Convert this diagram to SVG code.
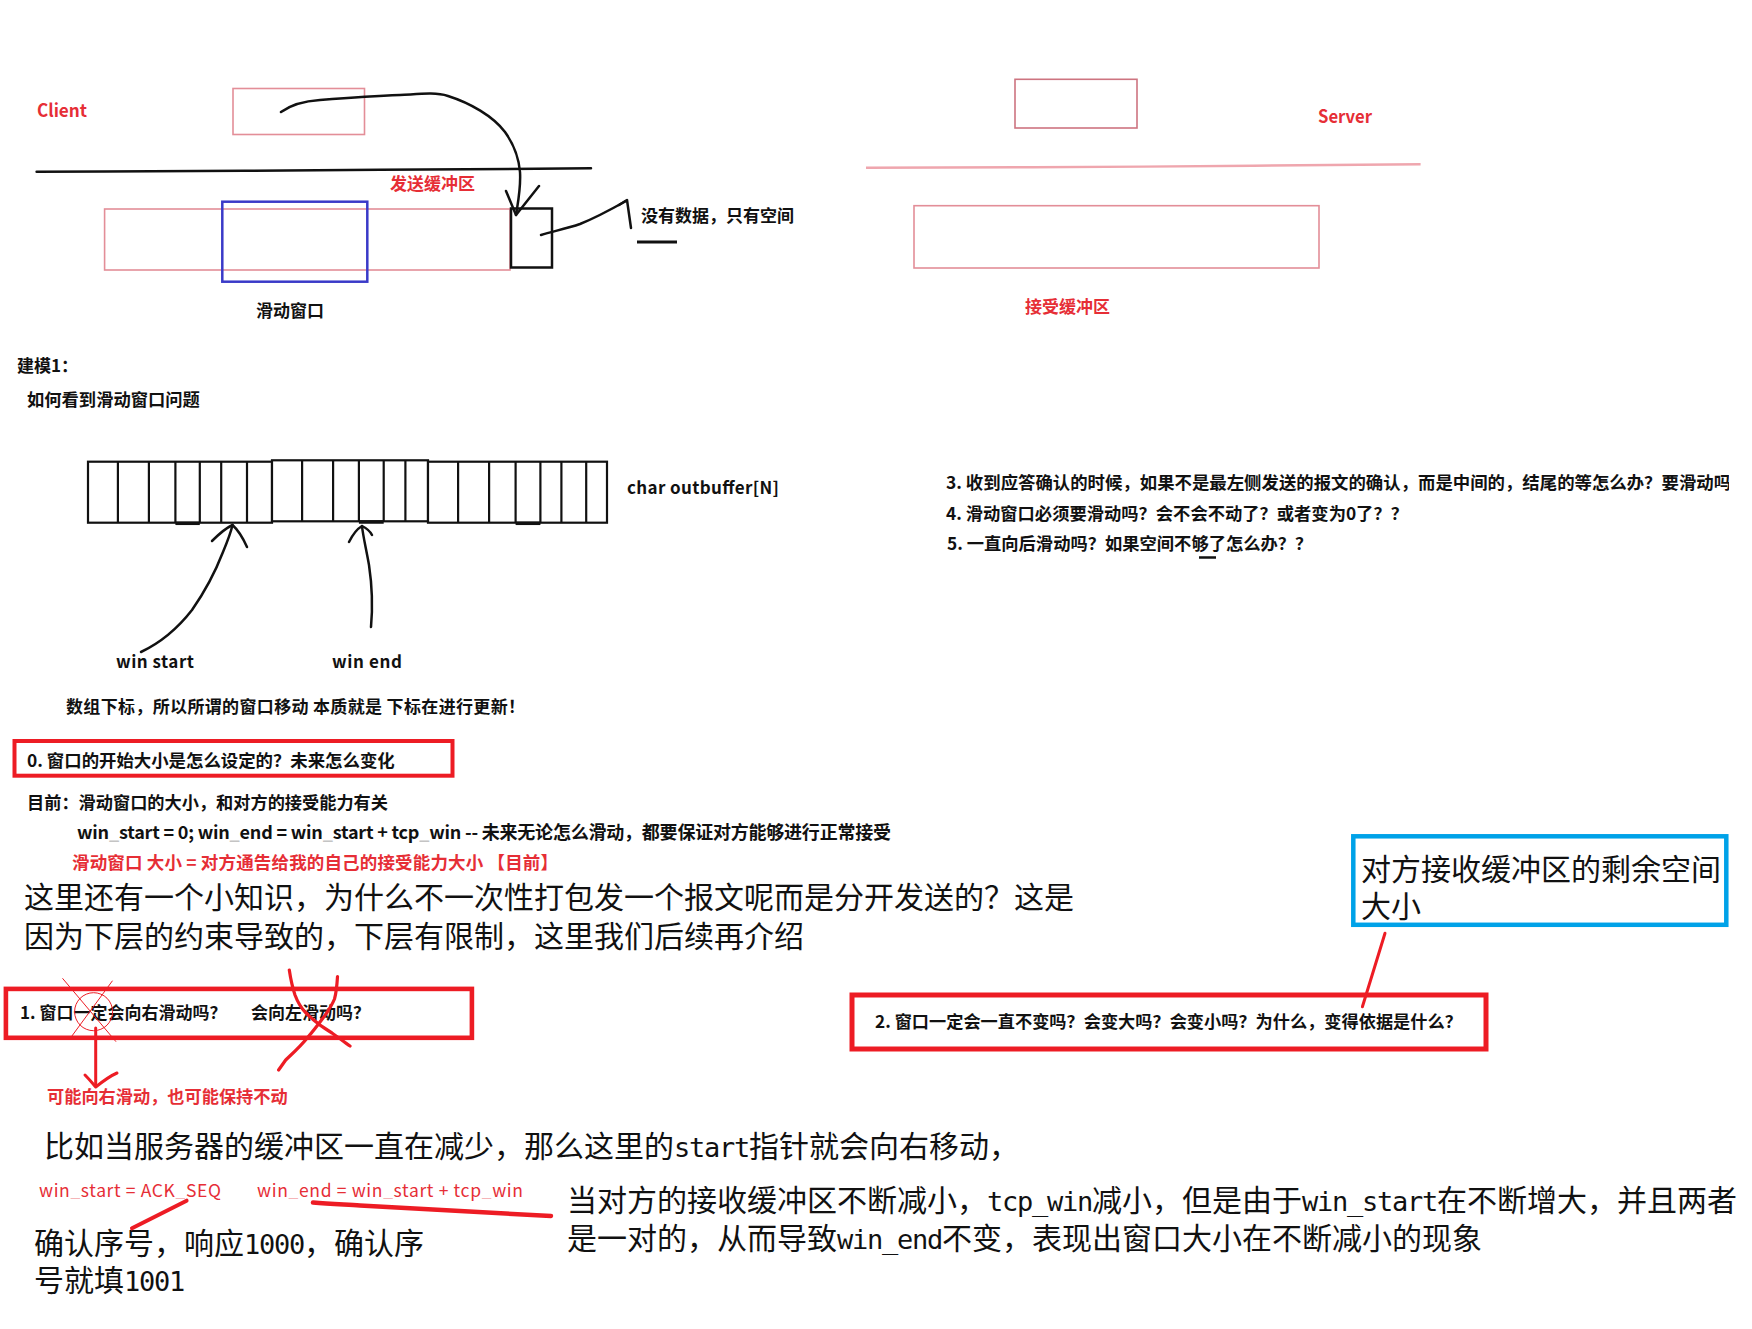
<svg xmlns="http://www.w3.org/2000/svg" width="1752" height="1329" viewBox="0 0 1752 1329">
<defs>
<style>
text{font-family:"Noto Sans CJK SC","Noto Sans",sans-serif;}
.b{font-weight:bold;font-size:17px;fill:#111}
.r{fill:#e62e36}
.n{font-weight:normal;font-size:17.5px}
.big{font-size:30px;fill:#111;font-weight:normal}
.m{font-family:"DejaVu Sans Mono","Liberation Mono",monospace;font-size:27px;letter-spacing:-1.25px}
.u{fill:#c4c4c4}
.ur{fill:#f5b5b8}
.pk{fill:none;stroke:#e38e98;stroke-width:1.6}
.ink{fill:none;stroke:#111;stroke-width:2.5;stroke-linecap:round;stroke-linejoin:round}
.red{fill:none;stroke:#ed1c24;stroke-linecap:round;stroke-linejoin:round}
.box{fill:none;stroke:#ed1c24}
.cell{stroke:#111;stroke-width:2.2}
</style>
<clipPath id="clipR"><rect x="0" y="0" width="1729" height="1329"/></clipPath>
</defs>
<rect width="1752" height="1329" fill="#fff"/>

<g id="client">
<text class="b r" style="font-size:18px" x="37" y="117" textLength="50" lengthAdjust="spacingAndGlyphs">Client</text>
<rect class="pk" x="233" y="88.5" width="131.5" height="46"/>
</g>
<g id="client-divider">
<polyline class="ink" points="36.6,171.7 105,171.4 245,170.7 380,169.8 591,168.3"/>
</g>
<g id="send-buffer">
<rect class="pk" x="104.6" y="209" width="405.4" height="61"/>
<text class="b r" x="390" y="189.5">发送缓冲区</text>
</g>
<g id="sliding-window">
<rect x="222.3" y="201.7" width="145" height="80" fill="none" stroke="#3a3ac8" stroke-width="2.5"/>
<text class="b" x="256" y="317">滑动窗口</text>
</g>
<g id="free-slot">
<rect x="511" y="208.5" width="41" height="59" fill="none" stroke="#111" stroke-width="2.5"/>
</g>
<g id="free-slot-note">
<text class="b" x="641" y="221.5">没有数据，只有空间</text>
<line x1="637" y1="242" x2="677" y2="242" stroke="#111" stroke-width="3"/>
</g>

<g id="server">
<text class="b r" style="font-size:18px" x="1318" y="123" textLength="54" lengthAdjust="spacingAndGlyphs">Server</text>
<rect x="1015" y="79.3" width="122" height="48.7" fill="none" stroke="#cd7480" stroke-width="1.6"/>
</g>
<g id="server-divider">
<polyline points="866,167.7 1033,167.2 1143,166.6 1253,165.7 1420.6,164.3" fill="none" stroke="#efa6ae" stroke-width="2.4"/>
</g>
<g id="recv-buffer">
<rect class="pk" x="914" y="205.7" width="405" height="62.3"/>
<text class="b r" x="1025" y="313">接受缓冲区</text>
</g>

<g id="model-title">
<text class="b" x="17" y="372">建模1：</text>
<text class="b" style="font-size:17.3px" x="27" y="406">如何看到滑动窗口问题</text>
</g>

<g id="outbuffer">
<rect class="cell" x="88" y="461.7" width="184" height="61" fill="#fff"/>
<rect class="cell" x="272" y="460.3" width="156" height="61" fill="#fff"/>
<rect class="cell" x="428" y="461.7" width="179" height="61" fill="#fff"/>
<g class="cell">
<line x1="117.9" y1="461.7" x2="117.9" y2="522.7"/>
<line x1="148.9" y1="461.7" x2="148.9" y2="522.7"/>
<line x1="175.4" y1="461.7" x2="175.4" y2="522.7"/>
<line x1="199.8" y1="461.7" x2="199.8" y2="522.7"/>
<line x1="221.2" y1="461.7" x2="221.2" y2="522.7"/>
<line x1="247" y1="461.7" x2="247" y2="522.7"/>
<line x1="302.1" y1="460.3" x2="302.1" y2="521.3"/>
<line x1="333.1" y1="460.3" x2="333.1" y2="521.3"/>
<line x1="358.9" y1="460.3" x2="358.9" y2="521.3"/>
<line x1="383.7" y1="460.3" x2="383.7" y2="521.3"/>
<line x1="405.4" y1="460.3" x2="405.4" y2="521.3"/>
<line x1="458.1" y1="461.7" x2="458.1" y2="522.7"/>
<line x1="489.1" y1="461.7" x2="489.1" y2="522.7"/>
<line x1="515.6" y1="461.7" x2="515.6" y2="522.7"/>
<line x1="540.4" y1="461.7" x2="540.4" y2="522.7"/>
<line x1="561.4" y1="461.7" x2="561.4" y2="522.7"/>
<line x1="586.2" y1="461.7" x2="586.2" y2="522.7"/>
</g>
<g stroke="#111" stroke-width="3.5">
<line x1="175.4" y1="523.3" x2="199.8" y2="523.3"/>
<line x1="358.9" y1="522" x2="383.7" y2="522"/>
<line x1="515.6" y1="523.3" x2="540.4" y2="523.3"/>
</g>
<text class="b" x="627" y="494" textLength="152">char outbuffer[N]</text>
</g>

<g id="win-labels">
<text class="b" x="116" y="668" textLength="78">win start</text>
<text class="b" x="332" y="668" textLength="70">win end</text>
<text class="b" x="66" y="713" textLength="459">数组下标，所以所谓的窗口移动 本质就是 下标在进行更新！</text>
</g>

<g id="questions-3-5">
<text class="b" style="font-size:17.4px" x="946" y="488.5" clip-path="url(#clipR)">3. 收到应答确认的时候，如果不是最左侧发送的报文的确认，而是中间的，结尾的等怎么办？要滑动吗？</text>
<text class="b" style="font-size:17.3px" x="946" y="519.5">4. 滑动窗口必须要滑动吗？会不会不动了？或者变为0了？？</text>
<text class="b" style="font-size:17.3px" x="947" y="550">5. 一直向后滑动吗？如果空间不够了怎么办？？</text>
<line x1="1199" y1="557.5" x2="1216" y2="557.5" stroke="#111" stroke-width="2.5"/>
</g>

<g id="question-0">
<rect class="box" x="14.5" y="741" width="438" height="34.7" stroke-width="4"/>
<text class="b" style="font-size:17.4px" x="27" y="766.5">0. 窗口的开始大小是怎么设定的？未来怎么变化</text>
</g>

<g id="window-notes">
<text class="b" style="font-size:17.2px" x="27" y="808.5">目前：滑动窗口的大小，和对方的接受能力有关</text>
<text class="b" style="font-size:18px" x="77" y="839" textLength="814">win<tspan class="u">_</tspan>start = 0; win<tspan class="u">_</tspan>end = win<tspan class="u">_</tspan>start + tcp<tspan class="u">_</tspan>win -- 未来无论怎么滑动，都要保证对方能够进行正常接受</text>
<text class="b r" style="font-size:17.5px" x="72" y="869" textLength="486">滑动窗口 大小 = 对方通告给我的自己的接受能力大小 【目前】</text>
<text class="big" x="24" y="908">这里还有一个小知识，为什么不一次性打包发一个报文呢而是分开发送的？这是</text>
<text class="big" x="24" y="947">因为下层的约束导致的，下层有限制，这里我们后续再介绍</text>
</g>

<g id="question-1">
<rect class="box" x="5.9" y="988.9" width="466" height="48.9" stroke-width="4.6"/>
<text class="b" x="20" y="1019">1. 窗口一定会向右滑动吗？<tspan x="251">会向左滑动吗？</tspan></text>
</g>
<g id="strike-marks">
<circle cx="93.6" cy="1011.7" r="19" fill="none" stroke="#ed1c24" stroke-width="1"/>
<line x1="62.5" y1="978.3" x2="116" y2="1041.7" stroke="#ed1c24" stroke-width="1"/>
<line x1="112.5" y1="980.7" x2="71.4" y2="1036.7" stroke="#ed1c24" stroke-width="1"/>
<path class="red" stroke-width="3.2" d="M289.3,970 C290.5,978 292,986 295,995 C298,1003 301,1008 306,1013 C313,1020 320,1026 332,1033 C338,1037 344,1042 350,1046"/>
<path class="red" stroke-width="3.2" d="M337.5,976.7 C337,985 336.5,992 334.5,999 C332,1005 330,1008 326,1014 C320,1022 315,1029 308,1037 C301,1046 292,1054 285.7,1060 L278.6,1070"/>
</g>
<g id="answer-1">
<text class="b r" style="font-size:17.2px" x="47" y="1102.5">可能向右滑动，也可能保持不动</text>
</g>

<g id="question-2">
<rect class="box" x="852" y="995" width="634" height="54" stroke-width="5"/>
<text class="b" style="font-size:17.2px" x="875" y="1028">2. 窗口一定会一直不变吗？会变大吗？会变小吗？为什么，变得依据是什么？</text>
</g>

<g id="tcp-win-note">
<rect x="1353.3" y="836.3" width="373" height="88.5" fill="none" stroke="#00a2e8" stroke-width="4.5"/>
<text class="big" x="1361" y="880">对方接收缓冲区的剩余空间</text>
<text class="big" x="1361" y="917">大小</text>
</g>

<g id="bottom-notes">
<text class="big" x="44" y="1156.5">比如当服务器的缓冲区一直在减少，那么这里的<tspan class="m">start</tspan>指针就会向右移动，</text>
<text class="n r" x="39" y="1197" textLength="182">win<tspan class="ur">_</tspan>start = ACK<tspan class="ur">_</tspan>SEQ</text>
<text class="n r" x="257" y="1197" textLength="266">win<tspan class="ur">_</tspan>end = win<tspan class="ur">_</tspan>start + tcp<tspan class="ur">_</tspan>win</text>
<text class="big" x="34" y="1254">确认序号，响应<tspan class="m">1000</tspan>，确认序</text>
<text class="big" x="34" y="1291">号就填<tspan class="m">1001</tspan></text>
<text class="big" x="567" y="1210.5">当对方的接收缓冲区不断减小，<tspan class="m">tcp_win</tspan>减小，但是由于<tspan class="m">win_start</tspan>在不断增大，并且两者</text>
<text class="big" x="567" y="1248.5">是一对的，从而导致<tspan class="m">win_end</tspan>不变，表现出窗口大小在不断减小的现象</text>
</g>

<g id="connectors">
<path class="ink" d="M281,112 C292,104 305,101 320,100 C345,98 370,96 400,95 C420,94 435,92 448,96 C470,103 493,116 505,132 C515,146 519,160 520,172 C521,188 518,202 516,215"/>
<polyline class="ink" points="506,191 516,215 539,186"/>
<path class="ink" d="M541,235 C555,231 568,228 580,224 C595,218 610,210 626,201"/>
<polyline class="ink" points="619,205 627,200 631,228"/>
<path class="ink" d="M141,652 C160,643 178,628 192,610 C206,590 216,570 223,552 C228,540 231,532 232.5,525"/>
<path class="ink" d="M212,541 C220,533 226,528 232.5,525 C238,530 243,538 247,547"/>
<path class="ink" d="M371,627 C373,605 372,585 369,565 C366,548 363,536 362,526"/>
<path class="ink" d="M349,542 C353,534 357,529 362,526 C366,528 370,531 372,535"/>
<line class="red" stroke-width="3" x1="95.7" y1="1028" x2="95.7" y2="1085"/>
<path class="red" stroke-width="3" d="M85,1075 C90,1080 93,1084 95.7,1087 C102,1082 110,1076 117,1073"/>
<line class="red" stroke-width="3" x1="1385" y1="933.3" x2="1362.4" y2="1006.7"/>
<line class="red" stroke-width="4" x1="186.6" y1="1200.7" x2="132" y2="1228.3"/>
<path class="red" stroke-width="4.5" d="M313,1202.5 C330,1204 345,1204.5 360,1205.5 L551,1216"/>
</g>
</svg>
